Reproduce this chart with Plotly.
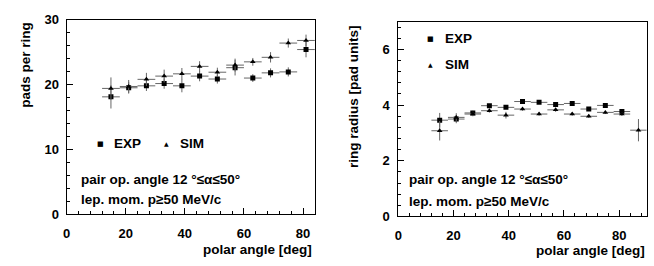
import plotly.graph_objects as go

# ---- data ----
angles_left = [15, 21, 27, 33, 39, 45, 51, 57, 63, 69, 75, 81]
pads_exp = [18.1, 19.5, 19.8, 20.15, 19.8, 21.3, 20.85, 22.6, 21.0, 21.8, 21.95, 25.4]
pads_exp_err = [1.8, 0.9, 0.8, 0.8, 1.0, 0.8, 0.7, 1.2, 0.6, 0.7, 0.7, 1.2]
pads_sim = [19.4, 19.7, 20.8, 21.3, 21.65, 22.8, 21.9, 23.0, 23.5, 24.2, 26.4, 26.8]
pads_sim_err = [1.7, 1.0, 1.0, 1.0, 0.9, 0.8, 0.7, 1.0, 0.6, 0.8, 0.7, 0.9]

angles_right_exp = [15, 21, 27, 33, 39, 45, 51, 57, 63, 69, 75, 81]
radius_exp = [3.46, 3.5, 3.72, 3.98, 3.92, 4.13, 4.1, 4.02, 4.06, 3.86, 3.99, 3.77]
radius_exp_err = [0.26, 0.15, 0.08, 0.06, 0.06, 0.05, 0.05, 0.06, 0.05, 0.06, 0.05, 0.06]
angles_right_sim = [15, 21, 27, 33, 39, 45, 51, 57, 63, 69, 75, 81, 87]
radius_sim = [3.08, 3.56, 3.68, 3.8, 3.64, 3.86, 3.68, 3.83, 3.68, 3.6, 3.74, 3.68, 3.1]
radius_sim_err = [0.35, 0.15, 0.08, 0.07, 0.12, 0.06, 0.06, 0.07, 0.06, 0.06, 0.06, 0.07, 0.4]
bin_half_width = 3

x_ticks_left = [0, 20, 40, 60, 80]
y_ticks_left = [0, 10, 20, 30]
x_ticks_right = [0, 20, 40, 60, 80]
y_ticks_right = [0, 2, 4, 6]

FONT = "Liberation Sans"
ERRC = "#666666"

def series(x, y, yerr, symbol, size, xa, ya):
    return go.Scatter(
        x=x, y=y, mode="markers", xaxis=xa, yaxis=ya, showlegend=False,
        marker=dict(symbol=symbol, size=size, color="black", line=dict(width=0)),
        error_x=dict(type="constant", value=bin_half_width, width=0, thickness=1, color=ERRC),
        error_y=dict(type="data", array=yerr, width=0, thickness=1, color=ERRC),
    )

fig = go.Figure()
fig.add_trace(series(angles_left, pads_exp, pads_exp_err, "square", 5, "x", "y"))
fig.add_trace(series(angles_left, pads_sim, pads_sim_err, "triangle-up", 5, "x", "y"))
fig.add_trace(series(angles_right_exp, radius_exp, radius_exp_err, "square", 5, "x2", "y2"))
fig.add_trace(series(angles_right_sim, radius_sim, radius_sim_err, "triangle-up", 5, "x2", "y2"))

W, H = 654, 266
tickfont = dict(family=FONT, size=13, color="black", weight="bold")

def ax(dom, rng, ticks, anchor, dtick_minor, standoff):
    return dict(domain=dom, range=rng, tickvals=ticks, ticks="inside", ticklen=6,
                tickcolor="black", showline=True, linecolor="black", linewidth=1,
                mirror=True, showgrid=False, zeroline=False, tickfont=tickfont,
                anchor=anchor, ticklabelstandoff=standoff,
                minor=dict(ticks="inside", ticklen=3, dtick=dtick_minor, tick0=0,
                           tickcolor="black", showgrid=False))

fig.update_layout(
    width=W, height=H, margin=dict(l=0, r=0, t=0, b=0),
    paper_bgcolor="white", plot_bgcolor="white",
    xaxis=ax([63/W, 312.8/W], [0, 84], x_ticks_left, "y", 4, 7),
    yaxis=ax([1-219.5/H, 1-13.5/H], [0, 30], y_ticks_left, "x", 2, 4),
    xaxis2=ax([396.7/W, 646.7/W], [0, 90], x_ticks_right, "y2", 4, 7),
    yaxis2=ax([1-222/H, 1-15.5/H], [0, 7], y_ticks_right, "x2", 0.4, 5),
)

lab = dict(family=FONT, size=13.5, color="black", weight="bold")
ann = []
def A(text, x, y, xanchor="left", yanchor="middle", angle=0, font=lab):
    ann.append(dict(text=text, x=x/W, y=1-y/H, xref="paper", yref="paper",
                    xanchor=xanchor, yanchor=yanchor, textangle=angle,
                    showarrow=False, font=font))

A("pads per ring", 21.7, 14, "center", "top", -90)
A("polar angle [deg]", 312, 256.5, "right", "middle", 0)
A("ring radius [pad units]", 351.7, 17, "center", "top", -90)
A("polar angle [deg]", 647, 258.5, "right", "middle", 0)

# legends
sq = dict(family="DejaVu Sans", size=7, color="black")
tr = dict(family="DejaVu Sans", size=6, color="black")
A("■", 96.7, 145, "center", "middle", 0, sq)
A("EXP", 109, 145)
A("▲", 163.3, 145, "center", "middle", 0, tr)
A("SIM", 175.5, 145)
A("■", 429.3, 33.5, "center", "middle", 0, sq)
A("EXP", 442, 33.5)
A("▲", 429.3, 61, "center", "middle", 0, tr)
A("SIM", 442, 61)

A("pair op. angle 12 °≤α≤50°", 75, 183)
A("lep. mom. p≥50 MeV/c", 75, 204)
A("pair op. angle 12 °≤α≤50°", 405.5, 183)
A("lep. mom. p≥50 MeV/c", 405.5, 206)

fig.update_layout(annotations=ann)
fig.write_html("out.html", config={"displayModeBar": False},
               post_script="document.body.style.margin='0';")
